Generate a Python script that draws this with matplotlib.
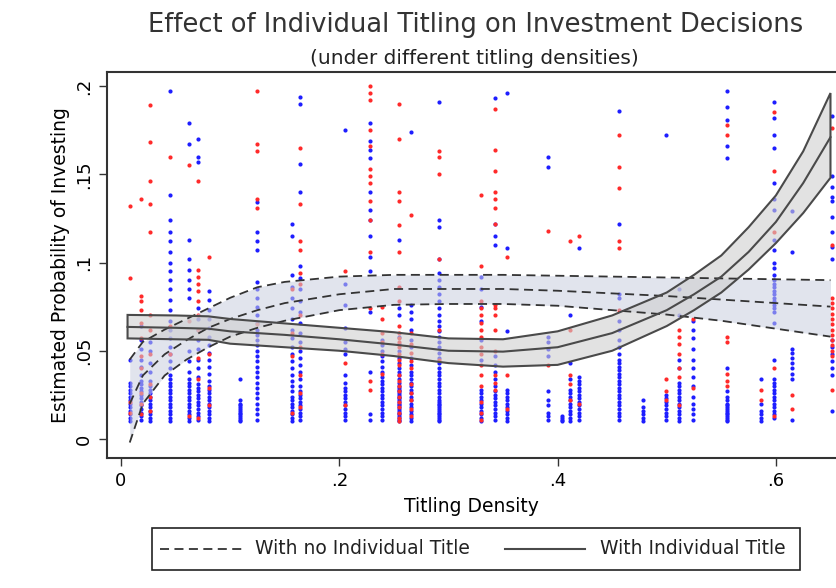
import matplotlib
matplotlib.use("Agg")
import matplotlib.pyplot as plt
from matplotlib.lines import Line2D
from matplotlib.patches import Rectangle

plt.rcParams["font.family"] = ["DejaVu Sans"]

# titling density of each village column
col_x = [0.008, 0.018, 0.027, 0.045, 0.062, 0.071, 0.081, 0.109, 0.125, 0.157,
         0.164, 0.205, 0.228, 0.239, 0.255, 0.266, 0.291, 0.330, 0.343, 0.354,
         0.391, 0.404, 0.411, 0.420, 0.456, 0.478, 0.499, 0.511, 0.524, 0.555,
         0.586, 0.598, 0.615, 0.651]

# estimated probabilities (x 1000), households with an individual title (blue)
blue_y = [
    [10, 12, 14, 16, 18, 20, 22, 24, 26, 28, 30, 32, 45],
    [11, 13, 15, 17, 19, 21, 23, 25, 27, 29, 31, 33, 36, 41, 45, 51, 56, 64],
    [10, 12, 14, 16, 18, 20, 22, 24, 26, 28, 30, 33, 38, 43, 50, 55],
    [10, 12, 14, 16, 18, 20, 22, 24, 26, 28, 30, 32, 34, 36, 40, 44, 48, 52, 57,
     62, 67, 73, 79, 85, 90, 95, 100, 106, 112, 117, 124, 138, 197],
    [10, 12, 14, 16, 18, 20, 22, 24, 26, 28, 30, 32, 34, 38, 44, 50, 80, 85, 90,
     96, 102, 113, 167, 179],
    [11, 13, 15, 17, 19, 21, 23, 25, 27, 29, 31, 35, 40, 45, 51, 56, 62, 68, 74,
     157, 160, 170],
    [10, 12, 14, 16, 18, 20, 22, 24, 26, 28, 30, 33, 37, 41, 45, 49, 53, 58, 63,
     68, 73, 79, 84],
    [10, 11, 12, 13, 14, 15, 16, 17, 18, 19, 20, 22, 34],
    [11, 14, 17, 20, 23, 26, 29, 32, 35, 38, 41, 44, 47, 50, 53, 56, 59, 62, 66,
     70, 75, 80, 85, 89, 107, 112, 117, 134],
    [10, 12, 14, 16, 18, 20, 22, 24, 27, 30, 33, 36, 40, 44, 48, 52, 57, 62, 68,
     74, 80, 86, 93, 115, 122],
    [11, 13, 15, 17, 19, 21, 23, 25, 27, 30, 34, 38, 42, 46, 50, 55, 60, 66, 72,
     78, 85, 91, 98, 140, 156, 190, 194],
    [11, 13, 15, 17, 19, 21, 23, 25, 27, 29, 32, 36, 48, 51, 55, 63, 76, 88, 175],
    [11, 14, 38, 72, 95, 103, 115, 124, 130, 140, 159, 164, 169, 179],
    [11, 13, 15, 17, 19, 21, 23, 25, 27, 29, 31, 33, 35, 38, 41, 44, 47, 50, 53, 56],
    [10, 11, 12, 13, 14, 15, 16, 17, 18, 19, 20, 21, 22, 23, 24, 25, 26, 27, 28,
     29, 30, 32, 34, 36, 38, 40, 43, 46, 50, 54, 58, 70, 74, 113],
    [10, 12, 14, 16, 18, 20, 22, 24, 26, 28, 30, 32, 34, 36, 38, 42, 46, 52, 56,
     62, 68, 72, 76, 174],
    [10, 11, 12, 13, 14, 15, 16, 17, 18, 19, 20, 21, 22, 24, 26, 28, 30, 32, 34,
     36, 38, 40, 43, 46, 49, 52, 55, 58, 61, 64, 67, 70, 74, 78, 82, 86, 90, 94,
     102, 120, 124, 191],
    [10, 12, 14, 16, 18, 20, 22, 24, 26, 28, 45, 56, 67, 75, 85, 92],
    [11, 13, 15, 17, 19, 21, 23, 25, 27, 30, 34, 38, 42, 47, 110, 115, 122, 193],
    [10, 12, 14, 16, 18, 20, 22, 24, 26, 28, 61, 108, 196],
    [11, 13, 15, 19, 22, 27, 47, 51, 55, 58, 154, 160],
    [10, 11, 12, 13],
    [10, 12, 14, 16, 18, 20, 22, 24, 26, 28, 34, 43, 70],
    [11, 13, 15, 17, 19, 21, 23, 25, 27, 29, 31, 33, 35, 108],
    [11, 13, 15, 17, 19, 21, 23, 25, 27, 29, 31, 33, 35, 37, 39, 41, 43, 45, 48,
     52, 56, 62, 67, 80, 82, 122, 186],
    [10, 12, 14, 16, 18, 22],
    [11, 13, 15, 17, 19, 21, 23, 25, 172],
    [10, 12, 14, 16, 18, 20, 22, 24, 26, 28, 30, 32, 40, 45, 70, 85],
    [11, 14, 17, 20, 24, 30, 35, 40, 45, 51, 57, 62, 67],
    [10, 11, 12, 13, 14, 15, 16, 17, 18, 19, 20, 22, 24, 27, 40, 159, 166, 181,
     188, 197],
    [10, 12, 14, 16, 20, 34],
    [12, 14, 16, 18, 20, 22, 24, 26, 28, 30, 32, 34, 45, 66, 72, 74, 76, 78, 80,
     82, 84, 86, 88, 90, 93, 97, 100, 107, 113, 130, 136, 145, 165, 172, 182, 191],
    [11, 34, 37, 40, 43, 46, 49, 51, 106, 129],
    [16, 36, 40, 44, 48, 52, 56, 102, 109, 117, 126, 135, 137, 143, 149, 183],
]

# households without an individual title (red)
red_y = [
    [15, 21, 91, 132],
    [14, 20, 26, 40, 47, 57, 66, 73, 78, 81, 136],
    [16, 24, 31, 48, 62, 70, 117, 133, 146, 168, 189],
    [48, 64, 160],
    [13, 67, 155],
    [12, 34, 46, 62, 70, 78, 84, 88, 92, 96, 146],
    [19, 29, 48, 103],
    [],
    [65, 131, 136, 163, 167, 197],
    [15, 47, 60, 85],
    [18, 26, 36, 52, 70, 88, 94, 107, 112, 133, 165],
    [19, 43, 95],
    [28, 33, 74, 106, 124, 135, 145, 149, 153, 166, 175, 192, 196, 200],
    [37, 48, 55, 60, 68, 75],
    [10, 12, 15, 18, 21, 24, 27, 30, 33, 36, 42, 45, 48, 52, 55, 57, 60, 64, 78,
     86, 106, 121, 135, 140, 170, 190],
    [13, 17, 22, 26, 31, 40, 44, 49, 54, 60, 127],
    [45, 62, 102, 150, 160, 163],
    [11, 15, 21, 30, 36, 42, 48, 52, 58, 62, 66, 70, 74, 78, 98, 138],
    [28, 32, 36, 50, 62, 70, 74, 76, 122, 131, 136, 140, 152, 164, 187],
    [17, 36, 103],
    [42, 118],
    [],
    [22, 31, 36, 62, 112],
    [20, 115],
    [73, 108, 112, 142, 154, 172],
    [],
    [22, 27, 34],
    [19, 35, 40, 48, 54, 58, 62],
    [29, 68],
    [30, 33, 37, 55, 58, 172, 178],
    [22, 28],
    [13, 40, 117, 152, 185],
    [17, 25],
    [28, 47, 50, 53, 56, 59, 62, 65, 68, 71, 74, 77, 80, 110, 176],
]

# fitted probability and 95% band, with individual title (solid)
fit_x = [0.006, 0.05, 0.08, 0.1, 0.15, 0.2, 0.25, 0.3, 0.35, 0.4, 0.45, 0.5,
         0.525, 0.55, 0.575, 0.6, 0.625, 0.65]
fit_hi = [0.0703, 0.0700, 0.0695, 0.068, 0.0655, 0.063, 0.0605, 0.057, 0.0565,
          0.061, 0.070, 0.083, 0.093, 0.104, 0.120, 0.138, 0.163, 0.196]
fit_mid = [0.0635, 0.063, 0.0625, 0.061, 0.059, 0.0565, 0.0535, 0.050, 0.0495,
           0.052, 0.060, 0.073, 0.082, 0.092, 0.106, 0.123, 0.145, 0.171]
fit_lo = [0.057, 0.0565, 0.0562, 0.054, 0.052, 0.050, 0.047, 0.043, 0.041,
          0.042, 0.050, 0.064, 0.073, 0.083, 0.096, 0.111, 0.128, 0.148]

# fitted probability and 95% band, no individual title (dashed)
nt_x = [0.008, 0.02, 0.04, 0.06, 0.08, 0.1, 0.125, 0.15, 0.2, 0.25, 0.3, 0.35,
        0.4, 0.45, 0.5, 0.55, 0.6, 0.65]
nt_hi = [0.045, 0.055, 0.062, 0.068, 0.074, 0.080, 0.086, 0.089, 0.092, 0.093,
         0.093, 0.093, 0.0925, 0.092, 0.0915, 0.091, 0.0905, 0.090]
nt_mid = [0.020, 0.036, 0.048, 0.056, 0.063, 0.068, 0.073, 0.077, 0.082, 0.085,
          0.085, 0.085, 0.084, 0.0825, 0.081, 0.079, 0.077, 0.075]
nt_lo = [-0.002, 0.020, 0.036, 0.045, 0.052, 0.058, 0.063, 0.067, 0.073, 0.076,
         0.0765, 0.0765, 0.0755, 0.073, 0.0705, 0.067, 0.0625, 0.058]

x_ticks = [0, 0.2, 0.4, 0.6]
x_labels = ["0", ".2", ".4", ".6"]
y_ticks = [0, 0.05, 0.1, 0.15, 0.2]
y_labels = ["0", ".05", ".1", ".15", ".2"]

W, H = 836, 588
fig = plt.figure(figsize=(W / 100, H / 100), dpi=100)
ax = fig.add_axes([107 / W, 1 - 458 / H, (W - 107) / W, (458 - 72) / H])

# scatter
bx, by, rx, ry = [], [], [], []
for x, bl, rl in zip(col_x, blue_y, red_y):
    bx += [x] * len(bl)
    by += [v / 1000 for v in bl]
    rx += [x] * len(rl)
    ry += [v / 1000 for v in rl]
ax.scatter(bx, by, s=9, color="#1e1eff", linewidths=0, zorder=2)
ax.scatter(rx, ry, s=9, color="#ff2a2a", linewidths=0, zorder=2)

# dashed band
ax.fill_between(nt_x, nt_lo, nt_hi, color="#c9cedf", alpha=0.55, linewidth=0, zorder=3)
for yy in (nt_hi, nt_mid, nt_lo):
    ax.plot(nt_x, yy, color="#333333", lw=1.3, dashes=(5, 3), zorder=4)

# solid band
poly_x = list(fit_x) + list(fit_x[::-1])
poly_y = list(fit_hi) + list(fit_lo[::-1])
ax.fill(poly_x, poly_y, facecolor="#cfcfcf", alpha=0.6, edgecolor="none", zorder=3)
ax.fill(poly_x, poly_y, facecolor="none", edgecolor="#4a4a4a", lw=1.5, zorder=4)
ax.plot(fit_x, fit_mid, color="#4a4a4a", lw=1.5, zorder=4)

ax.set_xlim((107 - 121) / 1091.5, (W - 121) / 1091.5)
ax.set_ylim((439 - 458) / 1765, (439 - 72) / 1765)
ax.set_xticks(x_ticks)
ax.set_xticklabels(x_labels, fontsize=13)
ax.set_yticks(y_ticks)
ax.set_yticklabels(y_labels, fontsize=13, rotation=90, va="center")
ax.tick_params(direction="out", length=6, width=1, color="#333333", pad=4)
for side in ("left", "top", "bottom"):
    ax.spines[side].set_linewidth(1.5)
    ax.spines[side].set_color("#333333")
ax.spines["right"].set_visible(False)
ax.set_xlabel("Titling Density", fontsize=13.5, labelpad=5)
ax.set_ylabel("Estimated Probability of Investing", fontsize=13.5, labelpad=4)

fig.text(476 / W, 1 - 25 / H, "Effect of Individual Titling on Investment Decisions",
         ha="center", va="center", fontsize=18.5, color="#333333")
fig.text(474 / W, 1 - 58 / H, "(under different titling densities)",
         ha="center", va="center", fontsize=14.5, color="#222222")

# legend drawn by hand in figure pixels
def fx(p):
    return p / W


def fy(p):
    return 1 - p / H


fig.patches.append(Rectangle((fx(152), fy(570)), fx(800) - fx(152), fy(528) - fy(570),
                             transform=fig.transFigure, facecolor="white",
                             edgecolor="#222222", lw=1.2))
fig.lines.append(Line2D([fx(160), fx(242)], [fy(549), fy(549)], transform=fig.transFigure,
                        color="#333333", lw=1.3, dashes=(5, 3)))
fig.text(fx(255), fy(549), "With no Individual Title", ha="left", va="center",
         fontsize=13.5, color="#222222")
fig.lines.append(Line2D([fx(505), fx(585)], [fy(549), fy(549)], transform=fig.transFigure,
                        color="#4a4a4a", lw=1.5))
fig.text(fx(600), fy(549), "With Individual Title", ha="left", va="center",
         fontsize=13.5, color="#222222")

fig.savefig("out.png", dpi=100)
